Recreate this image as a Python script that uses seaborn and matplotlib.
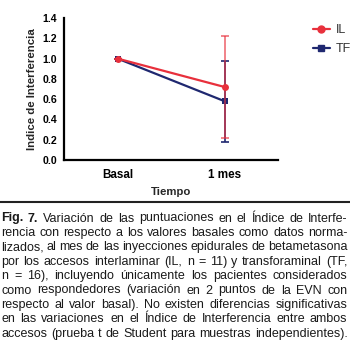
import matplotlib
matplotlib.use("Agg")
import matplotlib.pyplot as plt
import seaborn as sns
import pandas as pd
from matplotlib import font_manager
from matplotlib.lines import Line2D

# ---- data ----
categories = ["Basal", "1 mes"]
groups = ["IL", "TF"]
il_mean = [1.0, 0.72]
il_err = [0.0, 0.50]
tf_mean = [1.0, 0.58]
tf_err = [0.0, 0.40]
yticks = [0.0, 0.2, 0.4, 0.6, 0.8, 1.0, 1.2, 1.4]
caption_lines = [
    "Fig. 7. Variación de las puntuaciones en el Índice de Interfe-",
    "rencia con respecto a los valores basales como datos norma-",
    "lizados, al mes de las inyecciones epidurales de betametasona",
    "por los accesos interlaminar (IL, n = 11) y transforaminal (TF,",
    "n = 16), incluyendo únicamente los pacientes considerados",
    "como respondedores (variación en 2 puntos de la EVN con",
    "respecto al valor basal). No existen diferencias significativas",
    "en las variaciones en el Índice de Interferencia entre ambos",
    "accesos (prueba t de Student para muestras independientes).",
]

sns.set_style("white")
plt.rcParams["font.family"] = ["Liberation Sans", "DejaVu Sans"]

RED = "#e8303c"
NAVY = "#1f2870"

df = pd.DataFrame({
    "Tiempo": categories * 2,
    "valor": il_mean + tf_mean,
    "grupo": ["IL"] * 2 + ["TF"] * 2,
})

W, H = 350, 351
fig = plt.figure(figsize=(W / 100, H / 100), dpi=100)
ax = fig.add_axes([64 / W, 1 - 160 / H, (278 - 64) / W, (160 - 18) / H])

ax.errorbar(categories, tf_mean, yerr=tf_err, fmt="none", ecolor=NAVY,
            elinewidth=1.2, capsize=3, capthick=1.2, zorder=2)
sns.lineplot(data=df, x="Tiempo", y="valor", hue="grupo", style="grupo",
             markers={"IL": "o", "TF": "s"}, dashes=False,
             palette={"IL": RED, "TF": NAVY}, hue_order=["TF", "IL"],
             style_order=["TF", "IL"],
             linewidth=1.6, markersize=5, markeredgewidth=0, ax=ax,
             legend=False, sort=False)
ax.errorbar(categories, il_mean, yerr=il_err, fmt="none", ecolor=RED,
            elinewidth=1.2, capsize=3, capthick=1.2, alpha=0.7, zorder=4)
for ln in ax.lines:
    if str(ln.get_color()).lower() == RED:
        ln.set_zorder(5)

ax.set_xlim(-0.5, 1.5)
ax.set_ylim(0, 1.4)
ax.set_yticks(yticks)
ax.set_yticklabels([f"{v:.1f}" for v in yticks])
for s in ["top", "right"]:
    ax.spines[s].set_visible(False)
for s in ["left", "bottom"]:
    ax.spines[s].set_linewidth(1.6)
    ax.spines[s].set_color("black")
ax.tick_params(axis="both", direction="out", length=3.5, width=1.4,
               colors="black", labelsize=7.6, pad=1.5)
ax.tick_params(axis="x", labelsize=8.4, pad=3)
for lab in ax.get_xticklabels() + ax.get_yticklabels():
    lab.set_fontweight("bold")
ax.set_xlabel("Tiempo", fontsize=8.2, fontweight="bold", labelpad=4)
ax.set_ylabel("Indice de Interferencia", fontsize=8.2, fontweight="bold",
              labelpad=4)

handles = [Line2D([], [], color=RED, marker="o", markersize=5, lw=1.6),
           Line2D([], [], color=NAVY, marker="s", markersize=4.5, lw=1.6)]
leg = fig.legend(handles, groups, loc="upper left",
                 bbox_to_anchor=(302 / W, 1 - 13 / H), frameon=False,
                 handlelength=1.3, handletextpad=0.5, labelspacing=0.55,
                 prop={"size": 9})
for t in leg.get_texts():
    t.set_color("#333333")

fig.add_artist(Line2D([0, 1], [1 - 202 / H, 1 - 202 / H], transform=fig.transFigure,
                      color="#222222", lw=1.5))

# justified caption
fig.canvas.draw()
renderer = fig.canvas.get_renderer()
cap_font = "Liberation Sans Narrow"
names = {f.name for f in font_manager.fontManager.ttflist}
if cap_font not in names:
    cap_font = "Liberation Sans"
left_px, right_px = 1.0, 347.5
y0 = 218.5
dy = 14.4

def measure(fs):
    out = []
    for i, line in enumerate(caption_lines):
        words = line.split(" ")
        ws = []
        for j, w in enumerate(words):
            t = fig.text(0, 0, w, fontsize=fs, family=[cap_font, "DejaVu Sans"],
                         fontweight="bold" if (i == 0 and j < 2) else "normal",
                         transform=None)
            ws.append(t.get_window_extent(renderer).width)
            t.remove()
        out.append(ws)
    return out

base = 8.0
m = measure(base)
need = []
for ws in m:
    n = len(ws) - 1
    need.append((right_px - left_px) / (sum(ws) + n * 0.22 * base * 1.39))
fs = base * min(need)

for i, line in enumerate(caption_lines):
    words = line.split(" ")
    texts = []
    for j, w in enumerate(words):
        t = fig.text(0, 0, w, fontsize=fs, family=[cap_font, "DejaVu Sans"],
                     fontweight="bold" if (i == 0 and j < 2) else "normal",
                     color="#1a1a1a", va="center", ha="left", transform=None)
        texts.append(t)
    widths = [t.get_window_extent(renderer).width for t in texts]
    gap = (right_px - left_px - sum(widths)) / max(len(words) - 1, 1)
    x = left_px
    y = H - (y0 + i * dy)
    for t, wdt in zip(texts, widths):
        t.set_position((x, y))
        x += wdt + gap

fig.savefig("out.png", dpi=100)
